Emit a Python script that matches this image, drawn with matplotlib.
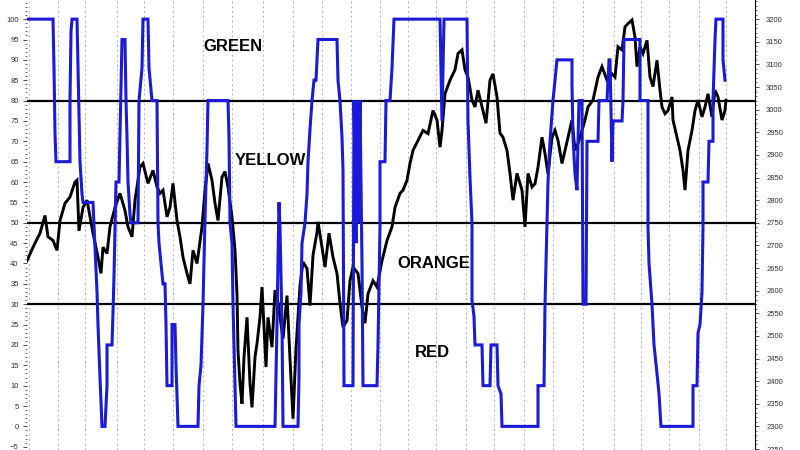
import matplotlib
matplotlib.use("Agg")
import matplotlib.pyplot as plt
from matplotlib.ticker import MultipleLocator

# ---- data ----
month_starts = [2, 31, 58, 90, 117, 146, 176, 205, 236, 266, 295, 324, 353,
                381, 409, 439, 467, 497, 526, 556, 587, 614, 642, 672, 699]

price_bar = [0, 6, 13, 18, 21, 26, 30, 33, 38, 43, 48, 50, 52, 56, 60, 63, 66, 71, 74, 76,
             80, 83, 88, 93, 98, 101, 105, 108, 113, 116, 121, 126, 130, 133, 136, 140, 143, 146, 150, 153,
             156, 160, 163, 166, 170, 175, 178, 181, 185, 188, 191, 195, 198, 201, 205, 208, 210, 211, 213, 215,
             217, 220, 223, 225, 228, 230, 233, 235, 239, 241, 245, 248, 251, 256, 260, 263, 266, 269, 273, 276,
             280, 283, 286, 290, 291, 295, 298, 302, 306, 310, 313, 316, 320, 323, 326, 331, 335, 338, 341, 346,
             350, 355, 360, 365, 368, 373, 376, 380, 383, 386, 391, 396, 401, 406, 410, 413, 415, 418, 423, 428,
             431, 435, 438, 441, 445, 448, 451, 455, 459, 463, 466, 470, 473, 476, 480, 483, 486, 490, 495, 498,
             501, 505, 508, 511, 515, 518, 521, 525, 528, 531, 535, 538, 541, 545, 548, 551, 555, 558, 561, 566,
             571, 575, 580, 585, 588, 591, 595, 598, 601, 605, 608, 610, 613, 616, 620, 623, 626, 630, 633, 635,
             638, 641, 645, 646, 650, 653, 656, 658, 661, 665, 668, 671, 675, 678, 681, 685, 688, 691, 695, 698, 699]
price_val = [2666, 2696, 2727, 2766, 2719, 2711, 2689, 2755, 2793, 2807, 2840, 2844, 2732, 2784, 2800, 2763, 2727, 2674, 2638, 2696,
             2682, 2741, 2784, 2815, 2777, 2741, 2719, 2800, 2873, 2881, 2837, 2866, 2829, 2815, 2822, 2763, 2784, 2837, 2755, 2719,
             2674, 2638, 2615, 2689, 2660, 2741, 2822, 2881, 2844, 2793, 2755, 2851, 2863, 2829, 2763, 2689, 2593, 2467, 2395, 2350,
             2453, 2541, 2395, 2342, 2453, 2483, 2541, 2608, 2431, 2541, 2475, 2601, 2574, 2494, 2589, 2449, 2317, 2472, 2611, 2663,
             2649, 2567, 2678, 2729, 2752, 2696, 2652, 2727, 2674, 2638, 2572, 2519, 2534, 2622, 2652, 2638, 2564, 2528, 2593, 2622,
             2608, 2666, 2711, 2741, 2784, 2815, 2822, 2844, 2881, 2910, 2932, 2954, 2947, 2998, 2977, 2917, 2954, 3035, 3065, 3088,
             3124, 3132, 3088, 3072, 3021, 3006, 3043, 3006, 2970, 3065, 3079, 3028, 2948, 2939, 2910, 2859, 2800, 2859, 2822, 2741,
             2859, 2829, 2836, 2873, 2939, 2903, 2858, 2939, 2954, 2932, 2881, 2910, 2939, 2977, 2910, 2925, 2954, 2977, 3006, 3021,
             3072, 3095, 3065, 3079, 3072, 3139, 3132, 3183, 3190, 3198, 3160, 3095, 3139, 3124, 3153, 3072, 3051, 3109, 3043, 3006,
             2991, 2998, 3028, 2977, 2939, 2910, 2866, 2822, 2910, 2954, 2998, 3021, 2984, 3006, 3035, 2984, 3043, 3028, 2977, 2998, 3021]

ind_bar = [0, 26, 27, 28, 29, 43, 43, 44, 45, 50, 51, 52, 53, 55, 56, 66, 68, 70, 71, 73,
           75, 78, 79, 80, 80, 85, 86, 87, 88, 89, 92, 95, 98, 99, 100, 101, 103, 104, 111, 112,
           115, 116, 121, 122, 125, 130, 131, 132, 136, 138, 139, 140, 145, 145, 148, 149, 151, 171, 172, 174,
           176, 178, 180, 181, 201, 202, 203, 205, 206, 208, 209, 248, 250, 251, 252, 253, 255, 256, 271, 272,
           272, 274, 275, 278, 280, 281, 283, 285, 287, 289, 291, 310, 311, 313, 315, 316, 317, 326, 327, 329,
           330, 332, 333, 335, 336, 350, 351, 353, 353, 358, 359, 363, 365, 367, 413, 415, 417, 440, 441, 443,
           445, 445, 447, 448, 455, 456, 463, 464, 470, 471, 474, 475, 511, 511, 517, 518, 520, 521, 523, 526,
           530, 545, 545, 546, 548, 550, 551, 552, 555, 556, 559, 560, 571, 572, 580, 582, 583, 585, 586, 595,
           596, 597, 613, 613, 621, 621, 622, 625, 627, 630, 632, 634, 666, 666, 670, 671, 673, 675, 676, 676,
           681, 682, 686, 686, 688, 689, 696, 696, 698]
ind_val = [100, 100, 88, 72, 65, 65, 80, 97, 100, 100, 88, 76, 65, 57, 55, 55, 44, 33, 25, 12,
           0, 0, 5, 10, 20, 20, 28, 37, 49, 60, 60, 95, 95, 80, 71, 60, 52, 50, 50, 80,
           88, 100, 100, 88, 80, 80, 50, 45, 35, 35, 25, 10, 10, 25, 25, 15, 0, 0, 10, 15,
           30, 51, 68, 80, 80, 71, 50, 45, 30, 10, 0, 0, 25, 41, 55, 49, 25, 0, 0, 12,
           25, 33, 45, 50, 57, 65, 73, 80, 85, 85, 95, 95, 85, 80, 71, 63, 10, 10, 80, 45,
           80, 50, 80, 40, 10, 10, 20, 49, 65, 65, 80, 80, 88, 100, 100, 75, 100, 100, 75, 61,
           50, 31, 27, 20, 20, 10, 10, 20, 20, 10, 8, 0, 0, 10, 10, 30, 50, 60, 70, 80,
           90, 90, 84, 71, 62, 58, 70, 80, 80, 30, 30, 70, 70, 80, 80, 90, 90, 65, 75, 75,
           80, 95, 95, 80, 80, 49, 40, 30, 20, 13, 8, 0, 0, 10, 10, 23, 25, 33, 49, 60,
           60, 70, 70, 80, 95, 100, 100, 90, 85]

zone_levels = [80, 50, 30]
zone_names = ["GREEN", "YELLOW", "ORANGE", "RED"]
zone_label_bar = [206, 243, 407, 405]
zone_label_val = [93.2, 65.3, 39.9, 18.1]

price_ticks = list(range(2250, 3201, 50))
ind_ticks = list(range(-5, 101, 5))

# ---- figure ----
fig = plt.figure(figsize=(8, 4.5), dpi=100)
ax = fig.add_axes([27 / 800, 0.0, 728 / 800, 1.0])
ax2 = ax.twinx()

ax.set_xlim(0, 728)
ax.set_ylim(2247.8, 3242.3)
ax2.set_ylim(-5.8, 104.7)

for m in month_starts:
    ax.axvline(m, color="#b4b4b4", lw=0.7, ls=(0, (2, 3)), zorder=0)

ax.plot(price_bar, price_val, color="black", lw=2.1, zorder=2,
        solid_joinstyle="miter")

tick_font = ["Liberation Sans Narrow", "Liberation Sans", "DejaVu Sans"]

# price axis on the right
ax.yaxis.tick_right()
ax.yaxis.set_label_position("right")
ax.set_yticks(price_ticks)
ax.yaxis.set_minor_locator(MultipleLocator(10))
ax.tick_params(axis="y", which="major", length=3, width=0.6, labelsize=5.5,
               pad=5, colors="#333333", left=False, labelleft=False,
               right=True, labelright=True)
ax.tick_params(axis="y", which="minor", length=1.5, width=0.5, colors="#333333",
               left=False, right=True)
for lab in ax.get_yticklabels():
    lab.set_family(tick_font)
ax.set_xticks([])
for s in ["top", "bottom", "left"]:
    ax.spines[s].set_visible(False)
ax.spines["right"].set_color("black")
ax.spines["right"].set_linewidth(0.8)

# indicator axis on the left
ax2.yaxis.tick_left()
ax2.yaxis.set_label_position("left")
ax2.set_yticks(ind_ticks)
ax2.yaxis.set_minor_locator(MultipleLocator(1))
ax2.tick_params(axis="y", which="major", length=3, width=0.6, labelsize=5.5,
                pad=3, colors="#333333", left=True, labelleft=True,
                right=False, labelright=False)
ax2.tick_params(axis="y", which="minor", length=1.5, width=0.5, colors="#333333",
                left=True, right=False)
for lab in ax2.get_yticklabels():
    lab.set_family(tick_font)
for s in ["top", "bottom", "left", "right"]:
    ax2.spines[s].set_visible(False)
ax2.set_xticks([])

for lv in zone_levels:
    ax2.axhline(lv, color="black", lw=1.6, zorder=3)

ax2.plot(ind_bar, ind_val, color="#1a1ad8", lw=2.2, zorder=4,
         solid_joinstyle="miter")

for name, bx, by in zip(zone_names, zone_label_bar, zone_label_val):
    ax2.text(bx, by, name, ha="center", va="center", fontsize=12,
             fontweight="bold", family=["Liberation Sans", "DejaVu Sans"],
             color="black", zorder=5)

fig.savefig("out.png", dpi=100)
